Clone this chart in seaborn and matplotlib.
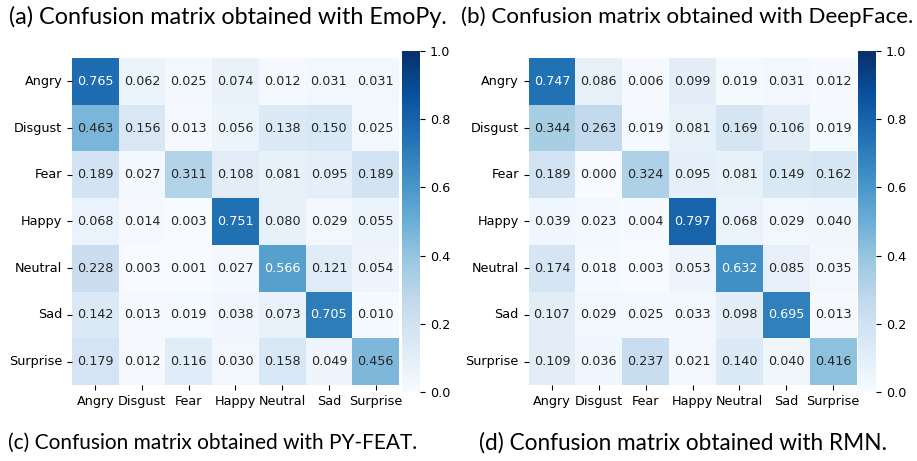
import numpy as np
import pandas as pd
import matplotlib
matplotlib.use("Agg")
import matplotlib.pyplot as plt
import seaborn as sns

plt.rcParams['font.family'] = ['DejaVu Sans']

emotions = ['Angry', 'Disgust', 'Fear', 'Happy', 'Neutral', 'Sad', 'Surprise']

# Confusion matrix values (rows = true, cols = predicted)
emopy_cm = [
    [0.765, 0.062, 0.025, 0.074, 0.012, 0.031, 0.031],
    [0.463, 0.156, 0.013, 0.056, 0.138, 0.150, 0.025],
    [0.189, 0.027, 0.311, 0.108, 0.081, 0.095, 0.189],
    [0.068, 0.014, 0.003, 0.751, 0.080, 0.029, 0.055],
    [0.228, 0.003, 0.001, 0.027, 0.566, 0.121, 0.054],
    [0.142, 0.013, 0.019, 0.038, 0.073, 0.705, 0.010],
    [0.179, 0.012, 0.116, 0.030, 0.158, 0.049, 0.456],
]
deepface_cm = [
    [0.747, 0.086, 0.006, 0.099, 0.019, 0.031, 0.012],
    [0.344, 0.263, 0.019, 0.081, 0.169, 0.106, 0.019],
    [0.189, 0.000, 0.324, 0.095, 0.081, 0.149, 0.162],
    [0.039, 0.023, 0.004, 0.797, 0.068, 0.029, 0.040],
    [0.174, 0.018, 0.003, 0.053, 0.632, 0.085, 0.035],
    [0.107, 0.029, 0.025, 0.033, 0.098, 0.695, 0.013],
    [0.109, 0.036, 0.237, 0.021, 0.140, 0.040, 0.416],
]

captions = ['(a) Confusion matrix obtained with EmoPy.',
            '(b) Confusion matrix obtained with DeepFace.',
            '(c) Confusion matrix obtained with PY-FEAT.',
            '(d) Confusion matrix obtained with RMN.']

W, H = 917, 461
fig = plt.figure(figsize=(W / 100, H / 100), dpi=100)


def px_axes(x0, y0, x1, y1):
    # pixel box (top-left origin) -> figure axes
    return fig.add_axes([x0 / W, 1 - y1 / H, (x1 - x0) / W, (y1 - y0) / H])


panels = [
    (emopy_cm, (72, 58, 399, 385), (402, 51, 420, 392)),
    (deepface_cm, (528.5, 58, 856.5, 385), (858, 51, 876, 392)),
]

for cm, hm_box, cb_box in panels:
    ax = px_axes(*hm_box)
    cax = px_axes(*cb_box)
    df = pd.DataFrame(cm, index=emotions, columns=emotions)
    sns.heatmap(df, ax=ax, cbar_ax=cax, cmap='Blues', vmin=0, vmax=1,
                annot=True, fmt='.3f', annot_kws={'fontsize': 9.2})
    ax.tick_params(axis='both', labelsize=9.2)
    ax.set_yticklabels(emotions, rotation=0)
    ax.set_xticklabels(emotions, rotation=0)
    cax.tick_params(labelsize=9.2)
    cax.set_yticks([0.0, 0.2, 0.4, 0.6, 0.8, 1.0])

# caption placement: left x, centre y, target width (pixels)
cap_pos = [(9, 17, 439), (461, 17, 453), (8, 443, 411), (479, 443, 409)]
renderer = fig.canvas.get_renderer()
for text, (x, y, w) in zip(captions, cap_pos):
    t = fig.text(x / W, 1 - y / H, text, fontsize=16, family='Lato',
                 va='center', ha='left')
    cur = t.get_window_extent(renderer).width
    t.set_fontsize(16 * w / cur)

fig.savefig('out.png', dpi=100)
